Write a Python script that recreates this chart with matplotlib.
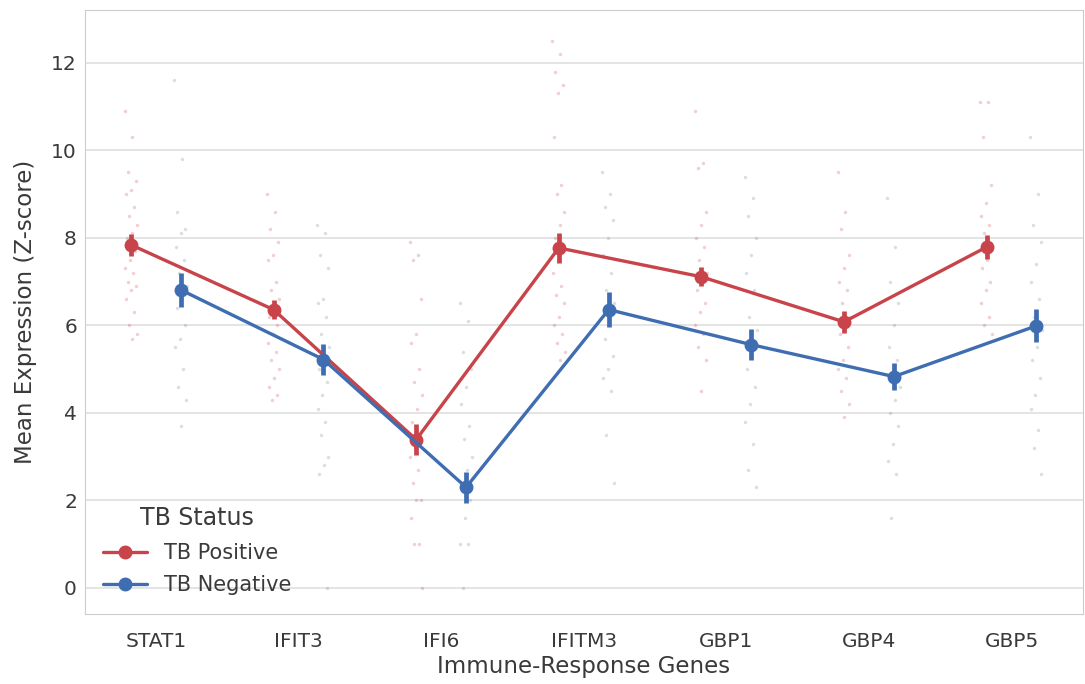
import numpy as np
import matplotlib
matplotlib.use("Agg")
import matplotlib.pyplot as plt
from matplotlib.lines import Line2D
import seaborn as sns

genes = ["STAT1", "IFIT3", "IFI6", "IFITM3", "GBP1", "GBP4", "GBP5"]
groups = ["TB Positive", "TB Negative"]

# mean expression and error-bar half-width
pos_mean = [7.84, 6.36, 3.39, 7.77, 7.11, 6.08, 7.79]
pos_err = [0.25, 0.22, 0.35, 0.35, 0.22, 0.25, 0.28]
neg_mean = [6.81, 5.22, 2.30, 6.36, 5.56, 4.83, 5.99]
neg_err = [0.38, 0.35, 0.35, 0.40, 0.35, 0.30, 0.38]

# individual sample values (strip points)
pos_points = [
    [10.9, 10.3, 9.5, 9.3, 9.1, 9.0, 8.7, 8.5, 8.3, 8.1, 8.0, 7.7, 7.5, 7.3,
     7.2, 7.0, 6.9, 6.8, 6.6, 6.3, 6.0, 5.8, 5.7],
    [9.0, 8.6, 8.2, 7.9, 7.6, 7.5, 7.0, 6.8, 6.6, 6.5, 6.2, 6.0, 5.8, 5.6,
     5.4, 5.2, 5.0, 4.8, 4.6, 4.4, 4.3],
    [7.9, 7.6, 7.5, 6.6, 5.8, 5.6, 5.0, 4.7, 4.4, 4.1, 3.8, 3.5, 3.2, 3.0,
     2.7, 2.4, 2.0, 2.0, 1.6, 1.0, 1.0, 0.0],
    [12.5, 12.2, 11.8, 11.5, 11.3, 10.3, 9.2, 9.0, 8.6, 8.3, 8.0, 7.7, 7.5,
     7.2, 6.9, 6.7, 6.5, 6.2, 6.0, 5.8, 5.6, 5.4, 5.2],
    [10.9, 9.7, 9.6, 8.6, 8.3, 8.0, 7.8, 7.5, 7.2, 7.0, 6.8, 6.5, 6.3, 6.0,
     5.8, 5.5, 5.2, 4.5],
    [9.5, 8.6, 8.2, 7.6, 7.3, 7.0, 6.8, 6.5, 6.2, 6.0, 5.8, 5.5, 5.2, 5.0,
     4.8, 4.5, 4.2, 3.9],
    [11.1, 11.1, 10.3, 9.2, 8.8, 8.5, 8.3, 8.1, 7.8, 7.5, 7.3, 7.0, 6.8, 6.5,
     6.2, 6.0, 5.8],
]
neg_points = [
    [11.6, 9.8, 8.6, 8.2, 8.1, 7.8, 7.5, 7.2, 6.9, 6.6, 6.4, 6.0, 5.7, 5.5,
     5.0, 4.6, 4.3, 3.7],
    [8.3, 8.1, 7.6, 7.3, 6.6, 6.5, 6.2, 5.8, 5.5, 5.2, 5.0, 4.7, 4.4, 4.1,
     3.8, 3.5, 3.0, 2.8, 2.6, 0.0],
    [6.5, 6.1, 5.4, 5.0, 4.6, 4.2, 3.7, 3.4, 3.0, 2.7, 2.3, 2.0, 1.6, 1.0,
     1.0, 0.0],
    [9.5, 9.0, 8.7, 8.4, 8.0, 7.6, 7.2, 6.8, 6.5, 6.0, 5.7, 5.3, 5.0, 4.8,
     4.5, 3.5, 2.4],
    [9.4, 8.9, 8.5, 8.0, 7.6, 7.2, 6.8, 6.2, 5.9, 5.5, 5.0, 4.6, 4.2, 3.8,
     3.3, 2.7, 2.3],
    [8.9, 7.8, 7.0, 6.5, 6.0, 5.5, 5.2, 4.9, 4.6, 4.3, 4.0, 3.7, 3.3, 2.9,
     2.6, 1.6],
    [10.3, 9.0, 8.3, 7.9, 7.4, 7.0, 6.6, 6.2, 5.9, 5.5, 5.2, 4.8, 4.4, 4.1,
     3.6, 3.2, 2.6],
]

RED = "#c8434a"
BLUE = "#3f6db2"
DODGE = 0.175

sns.set_style("whitegrid")
plt.rcParams["font.family"] = ["DejaVu Sans"]

fig = plt.figure(figsize=(10.85, 6.84), dpi=100)
ax = fig.add_axes([0.078, 0.102, 0.920, 0.883])

x = np.arange(len(genes))


def jitter(n):
    # deterministic small horizontal spread for the strip points
    k = np.arange(n)
    return ((k * 0.618034) % 1 - 0.5) * 0.09


for i in range(len(genes)):
    p = pos_points[i]
    q = neg_points[i]
    ax.scatter(i - DODGE + jitter(len(p)), p, s=6, color=RED, alpha=0.25,
               linewidths=0, zorder=2)
    ax.scatter(i + DODGE + jitter(len(q)), q, s=6, color="#6f7f95", alpha=0.25,
               linewidths=0, zorder=2)

handles = []
for mean, err, off, col, lab in [(pos_mean, pos_err, -DODGE, RED, groups[0]),
                                 (neg_mean, neg_err, DODGE, BLUE, groups[1])]:
    ax.errorbar(x + off, mean, yerr=err, color=col, lw=2.4, marker="o",
                markersize=9, elinewidth=3.4, capsize=0, zorder=4)
    handles.append(Line2D([], [], color=col, lw=2.4, marker="o",
                          markersize=9, label=lab))

ax.set_xlim(-0.5, len(genes) - 0.5)
ax.set_ylim(-0.6, 13.2)
ax.set_xticks(x)
ax.set_xticklabels(genes)
ax.set_yticks([0, 2, 4, 6, 8, 10, 12])
ax.grid(axis="x", visible=False)
ax.grid(axis="y", color="#dddddd", lw=1.1)
ax.tick_params(labelsize=14.5, colors="#3a3a3a")
ax.tick_params(axis="x", pad=9)
ax.tick_params(axis="y", pad=2)
for s in ax.spines.values():
    s.set_color("#cccccc")

ax.set_xlabel("Immune-Response Genes", fontsize=16.5, color="#3a3a3a", labelpad=3)
ax.set_ylabel("Mean Expression (Z-score)", fontsize=16.5, color="#3a3a3a",
              labelpad=10)

leg = ax.legend(handles=handles, title="TB Status", loc="lower left",
                frameon=False, fontsize=15, title_fontsize=17,
                handlelength=2.1, labelspacing=0.6, borderaxespad=0.5,
                bbox_to_anchor=(0.0, 0.0))
for t in leg.get_texts():
    t.set_color("#3a3a3a")
leg.get_title().set_color("#3a3a3a")

fig.savefig("out.png", dpi=100)
